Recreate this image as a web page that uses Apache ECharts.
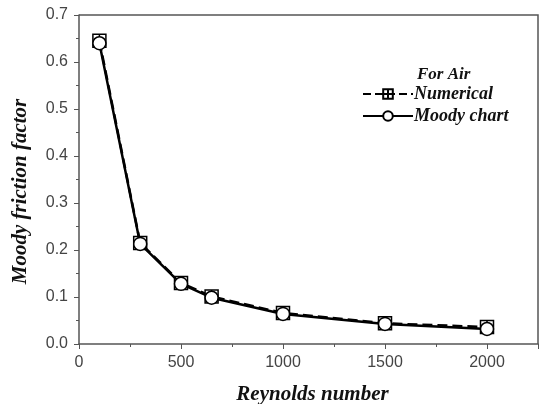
<!DOCTYPE html>
<html>
<head>
<meta charset="utf-8">
<script src="https://cdn.jsdelivr.net/npm/echarts@6/dist/echarts.min.js"></script>
<style>
html,body{margin:0;padding:0;background:#fff;}
#main{width:540px;height:404px;}
</style>
</head>
<body>
<div id="main"></div>
<script>
var reynolds = [100, 300, 500, 650, 1000, 1500, 2000];
var numerical = [0.645, 0.215, 0.130, 0.101, 0.066, 0.044, 0.036];
var moody = [0.640, 0.213, 0.128, 0.0985, 0.064, 0.0427, 0.032];

var chart = echarts.init(document.getElementById("main"));

function pairs(xs, ys) {
	var out = [];
	for (var i = 0; i < xs.length; i++) out.push([xs[i], ys[i]]);
	return out;
}

var serifFont = '"Liberation Serif", "DejaVu Serif", serif';
var sansFont = '"Liberation Sans", Arial, sans-serif';

var option = {
	animation: false,
	title: {
		text: 'For Air',
		left: 412,
		top: 61,
		textStyle: {
			fontFamily: serifFont,
			fontStyle: 'italic',
			fontWeight: 'bold',
			fontSize: 17,
			color: '#111'
		}
	},
	legend: {
		orient: 'vertical',
		left: 357,
		top: 80,
		itemWidth: 50,
		itemHeight: 12,
		itemGap: 4,
		data: ['Numerical', 'Moody chart'],
		textStyle: {
			fontFamily: serifFont,
			fontStyle: 'italic',
			fontWeight: 'bold',
			fontSize: 18,
			color: '#111',
			padding: [0, 0, 0, -4]
		}
	},
	grid: {
		left: 79,
		right: 2,
		top: 15,
		bottom: 60,
		outerBoundsMode: 'none'
	},
	xAxis: {
		type: 'value',
		min: 0,
		max: 2250,
		interval: 500,
		name: 'Reynolds number',
		nameLocation: 'middle',
		nameGap: 40,
		nameTextStyle: {
			fontFamily: serifFont,
			fontStyle: 'italic',
			fontWeight: 'bold',
			fontSize: 21,
			color: '#111',
			padding: [0, 0, 0, 8]
		},
		axisLine: { show: true, lineStyle: { color: '#555', width: 1.5 } },
		axisTick: { show: true, length: 5, lineStyle: { color: '#555' } },
		minorTick: { show: true, splitNumber: 2, length: 3, lineStyle: { color: '#555' } },
		axisLabel: {
			fontFamily: sansFont,
			fontSize: 16,
			color: '#444',
			margin: 11,
			formatter: function (v) { return v > 2000 ? '' : String(v); }
		},
		splitLine: { show: false }
	},
	yAxis: {
		type: 'value',
		min: 0,
		max: 0.7,
		interval: 0.1,
		name: 'Moody friction factor',
		nameLocation: 'middle',
		nameGap: 48,
		nameTextStyle: {
			fontFamily: serifFont,
			fontStyle: 'italic',
			fontWeight: 'bold',
			fontSize: 21,
			color: '#111',
			padding: [0, 24, 0, 0]
		},
		axisLine: { show: true, lineStyle: { color: '#555', width: 1.5 } },
		axisTick: { show: true, length: 5, lineStyle: { color: '#555' } },
		minorTick: { show: true, splitNumber: 2, length: 3, lineStyle: { color: '#555' } },
		axisLabel: {
			fontFamily: sansFont,
			fontSize: 16,
			color: '#444',
			margin: 11,
			formatter: function (v) { return v.toFixed(1); }
		},
		splitLine: { show: false }
	},
	graphic: [
		{
			type: 'polyline',
			shape: { points: [[79, 15], [538, 15], [538, 344]] },
			style: { stroke: '#555', lineWidth: 1.5, fill: null },
			silent: true
		}
	],
	series: [
		{
			name: 'Numerical',
			type: 'line',
			data: pairs(reynolds, numerical),
			symbol: 'path://M0,0H10V10H0Z M5,0V10 M0,5H10',
			symbolSize: 13,
			lineStyle: { color: '#000', width: 2.5, type: 'dashed' },
			itemStyle: { color: '#fff', borderColor: '#000', borderWidth: 1.5 },
			z: 2
		},
		{
			name: 'Moody chart',
			type: 'line',
			data: pairs(reynolds, moody),
			symbol: 'circle',
			symbolSize: 13,
			lineStyle: { color: '#000', width: 2.5 },
			itemStyle: { color: '#fff', borderColor: '#000', borderWidth: 1.5 },
			z: 3
		}
	]
};

chart.setOption(option);
</script>
</body>
</html>
